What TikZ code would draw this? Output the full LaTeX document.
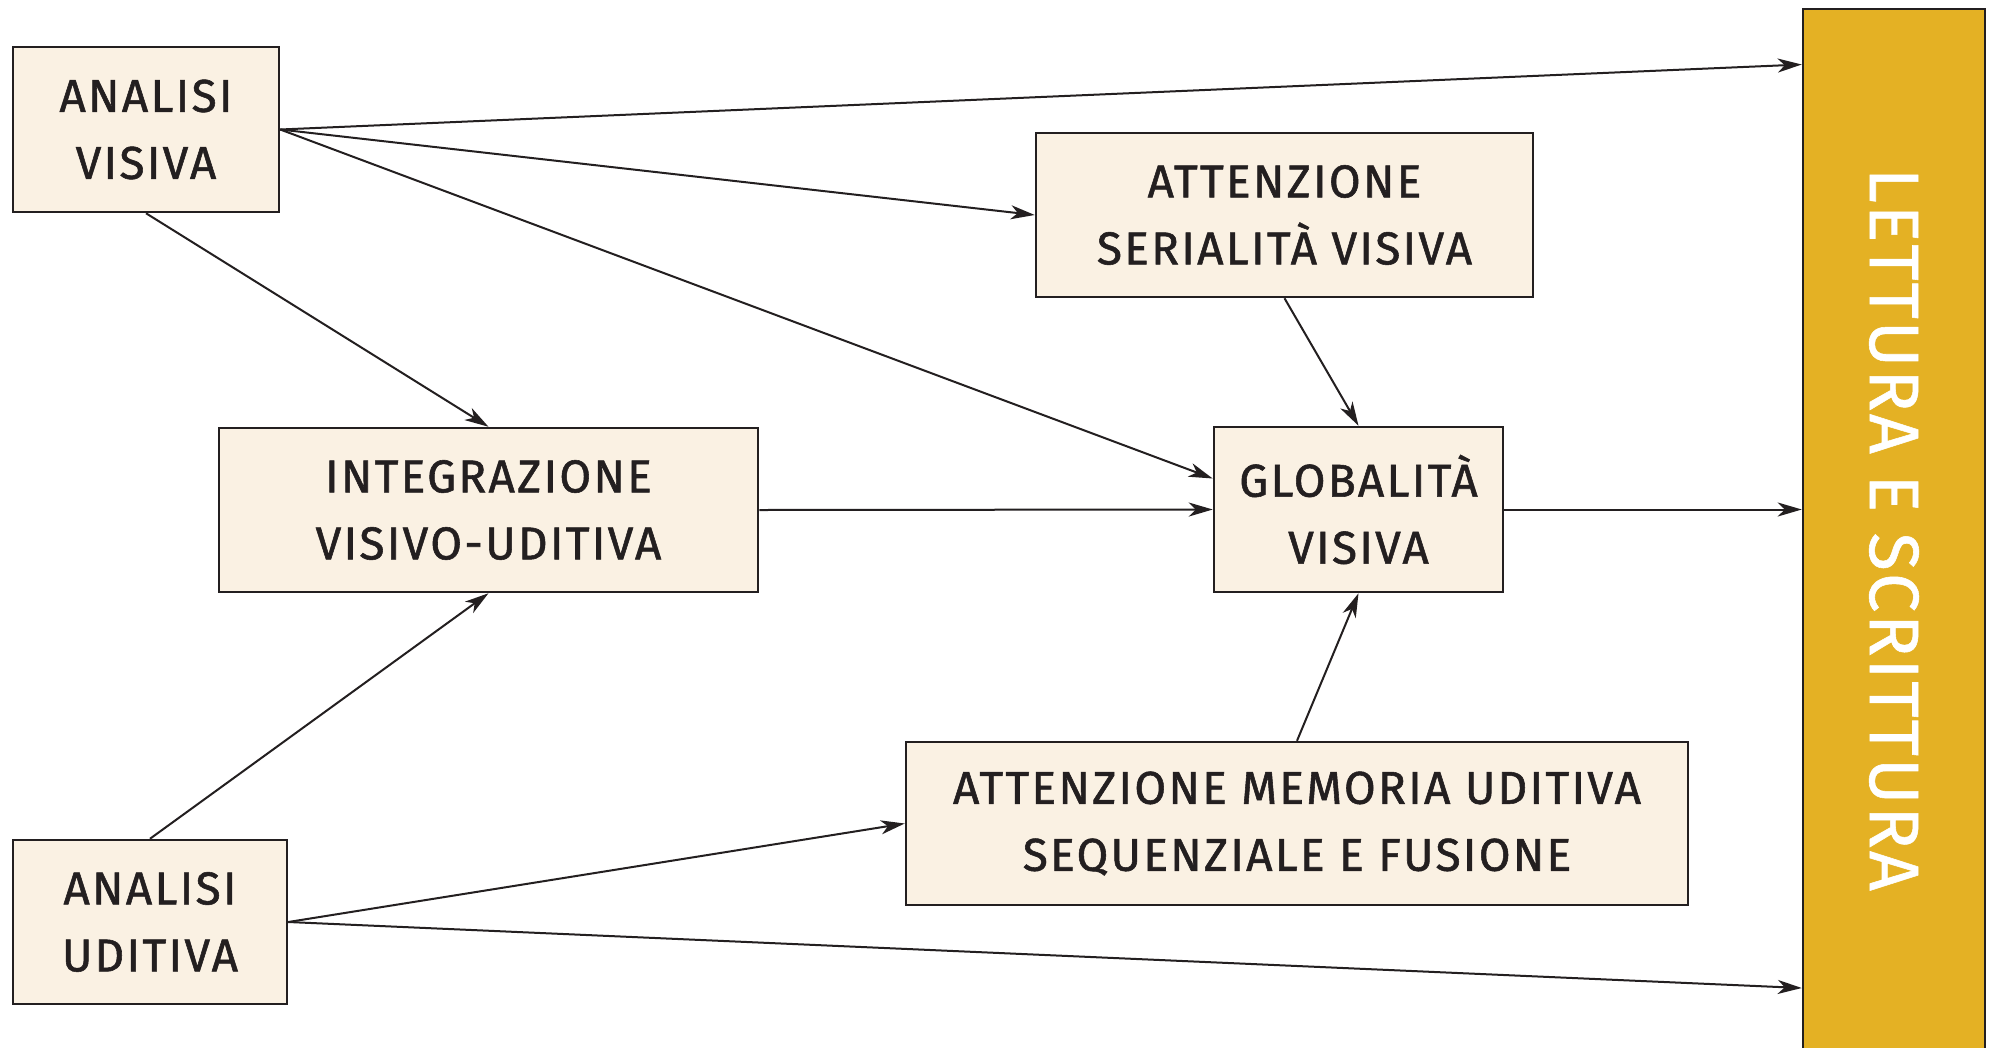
\documentclass[tikz,border=0pt]{standalone}
\usepackage{fontspec}
\usepackage{graphicx}
\setmainfont{Fira Sans}[LetterSpace=5,FakeBold=1.2]
\newfontfamily\sidefont{Fira Sans}[LetterSpace=3,FakeBold=0.8]
\usetikzlibrary{arrows.meta}

\definecolor{cream}{HTML}{FAF1E3}
\definecolor{ochre}{HTML}{E4B124}
\definecolor{ink}{HTML}{231F20}

\begin{document}
\begin{tikzpicture}[x=1pt,y=-1pt,
  box/.style={draw=ink,line width=2.5pt,fill=cream,align=center,inner sep=0pt,
    text=ink,font=\fontsize{46}{67}\selectfont},
  link/.style={draw=ink,line width=2pt,-{Stealth[length=24pt,width=14pt,inset=7pt]}}]
\useasboundingbox (0,0) rectangle (1993,1047);

\node[box,minimum width=266pt,minimum height=165pt] (av) at (146,129.5) {ANALISI\\VISIVA};
\node[box,minimum width=497pt,minimum height=164pt] (attser) at (1284.5,215) {ATTENZIONE\\SERIALITÀ VISIVA};
\node[box,minimum width=539pt,minimum height=164pt] (integ) at (488.5,510) {INTEGRAZIONE\\VISIVO-UDITIVA};
\node[box,minimum width=289pt,minimum height=165pt] (glob) at (1358.5,509.5) {GLOBALITÀ\\VISIVA};
\node[box,minimum width=782pt,minimum height=163pt] (attmem) at (1297,823.5) {ATTENZIONE MEMORIA UDITIVA\\SEQUENZIALE E FUSIONE};
\node[box,minimum width=274pt,minimum height=164pt] (au) at (150,922) {ANALISI\\UDITIVA};

% colonna gialla, esce dal fondo
\node[draw=ink,line width=2.5pt,fill=ochre,text=white,inner sep=0pt,
  minimum width=182pt,minimum height=1051pt,font=\sidefont\fontsize{70}{84}\selectfont]
  (lettura) at (1894,534.5) {\rotatebox{-90}{LETTURA E SCRITTURA\hspace{10pt}}};

\draw[link] (av.east) -- ([yshift=470pt]lettura.west);
\draw[link] (av.east) -- (attser.west);
\draw[link] (av.east) -- ([yshift=31pt]glob.west);
\draw[link] (av.south) -- (integ.north);
\draw[link] (integ.east) -- (glob.west);
\draw[link] (attser.south) -- (glob.north);
\draw[link] (glob.east) -- (lettura.west |- glob.east);
\draw[link] (attmem.north) -- (glob.south);
\draw[link] (au.north) -- (integ.south);
\draw[link] (au.east) -- (attmem.west);
\draw[link] (au.east) -- ([yshift=-453.5pt]lettura.west);

\end{tikzpicture}
\end{document}
